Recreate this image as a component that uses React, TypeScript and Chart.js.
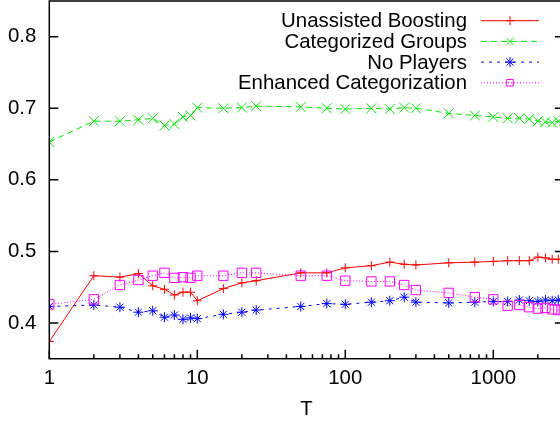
import React, { useEffect, useRef } from 'react';
import { Chart, registerables } from 'chart.js';

Chart.register(...registerables);

const tValues = [1, 2, 3, 4, 5, 6, 7, 8, 9, 10, 15, 20, 25, 50, 75, 100, 150, 200, 250, 300, 500, 750, 1000, 1250, 1500, 1750, 2000, 2250, 2500, 2750, 3000];
const unassistedBoosting = [0.374, 0.466, 0.464, 0.469, 0.452, 0.447, 0.439, 0.443, 0.443, 0.431, 0.448, 0.456, 0.459, 0.470, 0.470, 0.477, 0.480, 0.485, 0.482, 0.481, 0.484, 0.485, 0.486, 0.487, 0.487, 0.487, 0.492, 0.491, 0.489, 0.489, 0.489];
const categorizedGroups = [0.653, 0.682, 0.682, 0.684, 0.686, 0.676, 0.678, 0.688, 0.690, 0.701, 0.700, 0.701, 0.703, 0.702, 0.700, 0.699, 0.700, 0.699, 0.701, 0.700, 0.693, 0.690, 0.688, 0.686, 0.686, 0.685, 0.682, 0.681, 0.680, 0.682, 0.683];
const noPlayers = [0.423, 0.425, 0.422, 0.415, 0.417, 0.408, 0.411, 0.405, 0.407, 0.406, 0.412, 0.415, 0.418, 0.423, 0.427, 0.426, 0.429, 0.431, 0.436, 0.429, 0.428, 0.429, 0.430, 0.430, 0.432, 0.431, 0.430, 0.432, 0.431, 0.432, 0.432];
const enhancedCategorization = [0.426, 0.433, 0.453, 0.460, 0.466, 0.470, 0.463, 0.464, 0.463, 0.466, 0.466, 0.470, 0.470, 0.466, 0.466, 0.459, 0.458, 0.458, 0.453, 0.446, 0.442, 0.436, 0.433, 0.424, 0.425, 0.422, 0.420, 0.421, 0.419, 0.418, 0.419];

const seriesLabels = ['Unassisted Boosting', 'Categorized Groups', 'No Players', 'Enhanced Categorization'];
const xTickValues = [1, 10, 100, 1000];
const yTickValues = [0.4, 0.5, 0.6, 0.7, 0.8];
const xTitle = 'T';

const FONT = "'Liberation Sans', Arial, sans-serif";
const FSIZE = 20.4;

type Style = { color: string; dash: number[]; point: string; radius: number };
const styles: Style[] = [
  { color: '#ff0000', dash: [], point: 'cross', radius: 4.5 },
  { color: '#00ee00', dash: [6, 4], point: 'crossRot', radius: 7 },
  { color: '#0000ff', dash: [3, 5], point: 'star', radius: 5 },
  { color: '#ff00ff', dash: [1, 2], point: 'rect', radius: 6.6 },
];

function drawMarker(ctx: CanvasRenderingContext2D, kind: string, x: number, y: number, r: number) {
  ctx.beginPath();
  const d = r * Math.SQRT1_2;
  if (kind === 'cross' || kind === 'star') {
    ctx.moveTo(x - r, y); ctx.lineTo(x + r, y);
    ctx.moveTo(x, y - r); ctx.lineTo(x, y + r);
  }
  if (kind === 'crossRot' || kind === 'star') {
    ctx.moveTo(x - d, y - d); ctx.lineTo(x + d, y + d);
    ctx.moveTo(x - d, y + d); ctx.lineTo(x + d, y - d);
  }
  if (kind === 'rect') {
    ctx.rect(x - d, y - d, 2 * d, 2 * d);
  }
  ctx.stroke();
}

const framePlugin = {
  id: 'gnuFrame',
  afterDatasetsDraw(chart: any) {
    const { ctx, chartArea: a, scales } = chart;
    ctx.save();
    ctx.strokeStyle = '#000';
    ctx.lineWidth = 1.5;
    ctx.setLineDash([]);
    ctx.strokeRect(a.left, a.top, a.right - a.left, a.bottom - a.top);
    ctx.beginPath();
    for (const v of yTickValues) {
      const y = scales.y.getPixelForValue(v);
      ctx.moveTo(a.left, y); ctx.lineTo(a.left + 9, y);
      ctx.moveTo(a.right, y); ctx.lineTo(a.right - 9, y);
    }
    for (const v of xTickValues) {
      const x = scales.x.getPixelForValue(v);
      ctx.moveTo(x, a.bottom); ctx.lineTo(x, a.bottom - 9);
      for (let k = 2; k <= 9; k++) {
        const m = v * k;
        if (m > scales.x.max) break;
        const xm = scales.x.getPixelForValue(m);
        ctx.moveTo(xm, a.bottom); ctx.lineTo(xm, a.bottom - 4.5);
      }
    }
    ctx.stroke();

    // key
    ctx.font = `${FSIZE}px ${FONT}`;
    ctx.textAlign = 'right';
    ctx.textBaseline = 'middle';
    const textRight = 467;
    const lx0 = 481, lx1 = 539, mx = 510;
    seriesLabels.forEach((label, i) => {
      const y = 20.7 + i * 20.7;
      const st = styles[i];
      ctx.fillStyle = '#000';
      ctx.fillText(label, textRight, y + 1);
      ctx.strokeStyle = st.color;
      ctx.lineWidth = 1;
      ctx.setLineDash(st.dash);
      ctx.beginPath();
      ctx.moveTo(lx0, y); ctx.lineTo(lx1, y);
      ctx.stroke();
      ctx.setLineDash([]);
      drawMarker(ctx, st.point, mx, y, st.point === 'crossRot' ? 5 : st.point === 'rect' ? 4.7 : st.radius);
    });
    ctx.restore();
  },
};

export default function App() {
  const ref = useRef<HTMLCanvasElement | null>(null);
  useEffect(() => {
    if (!ref.current) return;
    const series = [unassistedBoosting, categorizedGroups, noPlayers, enhancedCategorization];
    const chart = new Chart(ref.current, {
      type: 'line',
      data: {
        datasets: series.map((vals, i) => ({
          label: seriesLabels[i],
          data: tValues.map((t, j) => ({ x: t, y: vals[j] })),
          borderColor: styles[i].color,
          borderWidth: 1,
          borderDash: styles[i].dash,
          pointStyle: styles[i].point as any,
          pointRadius: styles[i].radius,
          pointBorderColor: styles[i].color,
          pointBackgroundColor: 'rgba(0,0,0,0)',
          pointBorderWidth: 1,
          tension: 0,
          fill: false,
          order: 3 - i,
        })),
      },
      options: {
        animation: false,
        responsive: false,
        devicePixelRatio: 1,
        layout: { autoPadding: false, padding: { left: 0, right: 6.1, top: 1, bottom: 0 } },
        plugins: { legend: { display: false }, tooltip: { enabled: false } },
        scales: {
          x: {
            type: 'logarithmic',
            min: 1,
            max: 3000,
            grid: { display: false, drawTicks: false },
            border: { display: false },
            afterBuildTicks: (axis: any) => { axis.ticks = xTickValues.map((v) => ({ value: v })); },
            afterFit: (axis: any) => { axis.height = 62.3; axis.paddingLeft = 0; axis.paddingRight = 0; },
            ticks: {
              padding: 7,
              color: '#000',
              font: { family: FONT, size: FSIZE },
              maxRotation: 0,
              autoSkip: false,
              callback: (v: any) => String(v),
            },
            title: { display: true, text: xTitle, color: '#000', font: { family: FONT, size: FSIZE }, padding: { top: 0, bottom: -1 } },
          },
          y: {
            min: 0.35,
            max: 0.85,
            grid: { display: false, drawTicks: false },
            border: { display: false },
            afterBuildTicks: (axis: any) => { axis.ticks = yTickValues.map((v) => ({ value: v })); },
            afterFit: (axis: any) => { axis.width = 49.3; axis.paddingTop = 0; axis.paddingBottom = 0; },
            ticks: {
              padding: 13,
              color: '#000',
              font: { family: FONT, size: FSIZE },
              callback: (v: any) => Number(v).toFixed(1),
            },
          },
        },
      },
      plugins: [framePlugin],
    });
    return () => chart.destroy();
  }, []);
  return (
    <div style={{ position: 'fixed', left: 0, top: 0, width: 560, height: 421, overflow: 'hidden', background: '#fff' }}>
      <canvas ref={ref} width={570} height={421} style={{ display: 'block' }} />
    </div>
  );
}
